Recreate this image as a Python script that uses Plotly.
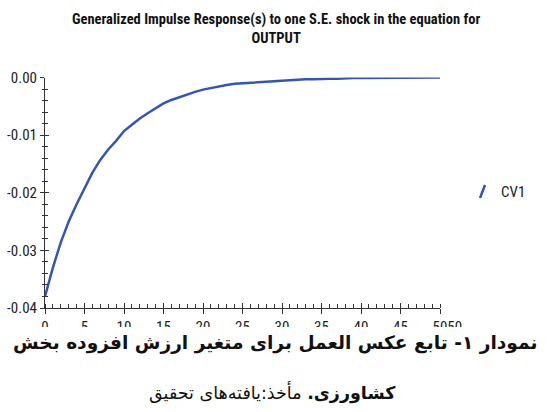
import plotly.graph_objects as go

# ---- data ----
periods = list(range(0, 51))
cv1 = [-0.0380, -0.0330, -0.0286, -0.0250, -0.0220, -0.0193, -0.0165, -0.0143,
       -0.0125, -0.0110, -0.0093, -0.0082, -0.0071, -0.0062, -0.0053, -0.0045,
       -0.0039, -0.0034, -0.0029, -0.0025, -0.0021, -0.0018, -0.0015, -0.0013,
       -0.0011, -0.0010, -0.0009, -0.0008, -0.0007, -0.0006, -0.0005, -0.0005,
       -0.0004, -0.0003, -0.0003, -0.0002, -0.0002, -0.0002, -0.0001, -0.0001,
       -0.0001, -0.0001, -0.0001, -0.0001, -0.0001, -0.0001, -0.0001, 0.0000,
       0.0000, 0.0000, 0.0000]
series_name = "CV1"
x_tickvals = [0, 5, 10, 15, 20, 25, 30, 35, 40, 45, 50]
x_ticktext = ["0", "5", "10", "15", "20", "25", "30", "35", "40", "45", "\u2007\u20075050"]
y_tickvals = [0.0, -0.01, -0.02, -0.03, -0.04]
y_ticktext = ["0.00", "-0.01", "-0.02", "-0.03", "-0.04"]
title_lines = ["Generalized Impulse Response(s) to one S.E. shock in the equation for",
               "OUTPUT"]
caption_line1 = "<b>نمودار ۱- تابع عکس العمل برای متغیر ارزش افزوده بخش</b>"
caption_line2 = "<b>کشاورزی.</b> مأخذ:یافته‌های تحقیق"

W, H = 548, 412
NARROW = "Roboto Condensed, Liberation Sans, sans-serif"
LINE_COLOR = "#3656AE"
AX = "#333333"

def px_x(p):
    return p / W

def px_y(p):
    return 1 - p / H

xdom = [px_x(45), px_x(440)]
ydom = [px_y(308), px_y(77.5)]

fig = go.Figure()
fig.add_trace(go.Scatter(x=periods, y=cv1, mode="lines", name=series_name,
                         line=dict(color=LINE_COLOR, width=2.5),
                         showlegend=False, hoverinfo="skip"))
# invisible copy that activates the overlay axes (inner halves of the ticks)
fig.add_trace(go.Scatter(x=periods, y=cv1, mode="lines", xaxis="x2", yaxis="y2",
                         line=dict(color="rgba(0,0,0,0)", width=0),
                         showlegend=False, hoverinfo="skip"))

tickfont = dict(family=NARROW, size=15, color="#222222")
fig.update_layout(
    template="none",
    width=W, height=H,
    margin=dict(l=0, r=0, t=0, b=0, pad=0, autoexpand=False),
    paper_bgcolor="white", plot_bgcolor="white",
    showlegend=False,
    xaxis=dict(domain=xdom, range=[0, 50], showgrid=False, zeroline=False,
               automargin=False,
               showline=True, linecolor=AX, linewidth=1,
               tickmode="array", tickvals=x_tickvals, ticktext=x_ticktext,
               ticks="outside", ticklen=5, tickcolor=AX, tickfont=tickfont,
               minor=dict(dtick=1, ticks="inside", ticklen=4, tickcolor=AX,
                          showgrid=False),
               anchor="y"),
    yaxis=dict(domain=ydom, range=[-0.04, 0], showgrid=False, zeroline=False,
               automargin=False,
               showline=True, linecolor=AX, linewidth=1,
               tickmode="array", tickvals=y_tickvals, ticktext=y_ticktext,
               ticks="outside", ticklen=4, tickcolor=AX, tickfont=tickfont,
               minor=dict(dtick=0.002, tick0=0, ticks="outside", ticklen=2,
                          tickcolor=AX, showgrid=False),
               anchor="x"),
    xaxis2=dict(domain=xdom, range=[0, 50], overlaying="x", anchor="y2",
                automargin=False,
                showgrid=False, zeroline=False, showline=False,
                tickmode="array", tickvals=x_tickvals, showticklabels=False,
                ticks="inside", ticklen=5, tickcolor=AX),
    yaxis2=dict(domain=ydom, range=[-0.04, 0], overlaying="y", anchor="x2",
                automargin=False,
                showgrid=False, zeroline=False, showline=False,
                tickmode="array", tickvals=y_tickvals, showticklabels=False,
                ticks="inside", ticklen=4, tickcolor=AX,
                minor=dict(dtick=0.002, tick0=0, ticks="inside", ticklen=3,
                           tickcolor=AX, showgrid=False)),
)

# white band that clips the lower part of the x tick labels, as in the reference
fig.add_shape(type="rect", xref="paper", yref="paper", layer="above",
              x0=0, x1=1, y0=0, y1=px_y(327), fillcolor="white", line=dict(width=0))

# legend: slanted stroke + series name
fig.add_shape(type="line", xref="paper", yref="paper", layer="above",
              x0=px_x(480), y0=px_y(198), x1=px_x(485), y1=px_y(185),
              line=dict(color=LINE_COLOR, width=2.5))
fig.add_annotation(xref="paper", yref="paper", x=px_x(499), y=px_y(191.5),
                   xanchor="left", yanchor="middle", showarrow=False,
                   text=series_name, font=dict(family=NARROW, size=15, color="#222222"))

# chart title
fig.add_annotation(xref="paper", yref="paper", x=px_x(276), y=px_y(29),
                   xanchor="center", yanchor="middle", showarrow=False,
                   text="<br>".join("<b>" + t + "</b>" for t in title_lines),
                   font=dict(family=NARROW, size=14.5, color="#111111"))

# Persian caption below the chart
fig.add_annotation(xref="paper", yref="paper", x=px_x(275), y=px_y(343),
                   xanchor="center", yanchor="middle", showarrow=False,
                   text=caption_line1, font=dict(family="DejaVu Sans", size=18.6, color="#111111"))
fig.add_annotation(xref="paper", yref="paper", x=px_x(272), y=px_y(392),
                   xanchor="center", yanchor="middle", showarrow=False,
                   text=caption_line2, font=dict(family="DejaVu Sans", size=17.5, color="#111111"))

# place the figure at the page's top-left corner (no default body margin)
fig.write_html("out.html",
               config={"displayModeBar": False, "staticPlot": True},
               post_script="document.body.style.margin='0';document.body.style.padding='0';")
